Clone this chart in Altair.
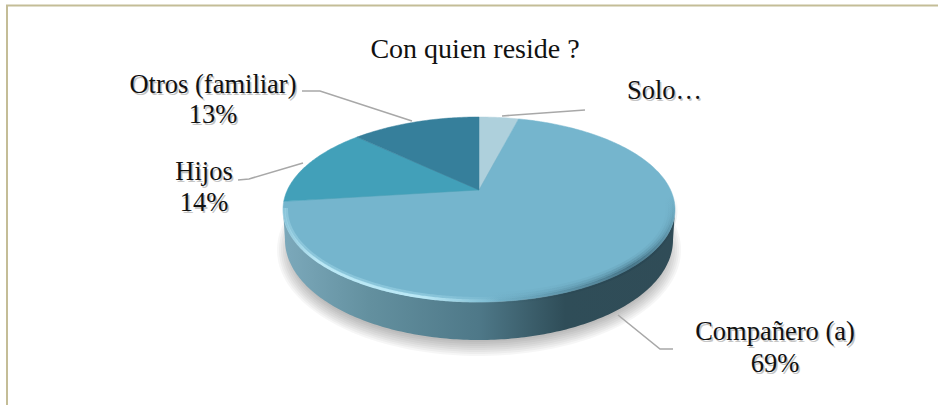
import altair as alt
import numpy as np
import pandas as pd

# Share of respondents per household type, clockwise from twelve o'clock
categories = ["Solo", "Compañero (a)", "Hijos", "Otros (familiar)"]
shares = [4, 69, 14, 13]
slice_colors = ["#AED0DC", "#75B5CD", "#42A0B9", "#367F9B"]

title_text = "Con quien reside ?"
label_lines = [
    ("Otros (familiar)", 213, 93, "center"),
    ("13%", 213, 123, "center"),
    ("Hijos", 204, 180, "center"),
    ("14%", 204, 211, "center"),
    ("Compañero (a)", 775, 340, "center"),
    ("69%", 775, 372, "center"),
    ("Solo…", 627, 99, "left"),
]
leaders = [
    [(302, 91), (320, 91), (412, 121)],
    [(238, 180), (249, 179), (303, 163)],
    [(502, 116), (585, 110)],
    [(618, 315), (660, 349), (673, 349)],
]

W, H = 938, 405
CX, CY, RX, RY = 479.0, 209.5, 196.0, 92.5   # outline of the top face
TILT = 0.211                                 # perspective shift of the pie centre
DEPTH_CY, DEPTH_RX, DEPTH_RY = 240.0, 194.0, 100.0

x_scale = alt.Scale(domain=[0, W], nice=False, zero=False)
y_scale = alt.Scale(domain=[H, 0], nice=False, zero=False)


def shape(points, **mark):
    df = pd.DataFrame(points, columns=["x", "y"])
    df["i"] = range(len(df))
    return alt.Chart(df).mark_line(**mark).encode(
        x=alt.X("x:Q", scale=x_scale, axis=None),
        y=alt.Y("y:Q", scale=y_scale, axis=None),
        order=alt.Order("i:Q"),
    )


def disc_to_screen(share):
    """Cumulative percentage around the pie -> point on the tilted top face."""
    theta = np.radians(np.asarray(share, dtype=float) * 3.6)
    u, v = np.sin(theta), np.cos(theta)
    d = 1 + TILT * v
    return CX + RX * u * np.sqrt(1 - TILT**2) / d, CY - RY * (v + TILT) / (TILT * v + 1)


def ellipse(cx, cy, rx, ry, a0=0, a1=360, n=180):
    phi = np.radians(np.linspace(a0, a1, n))
    return list(zip(cx + rx * np.cos(phi), cy + ry * np.sin(phi)))


def linear(stops, x1=0, x2=1, y1=0, y2=0):
    return alt.Gradient(
        gradient="linear", x1=x1, x2=x2, y1=y1, y2=y2,
        stops=[alt.GradientStop(color=c, offset=o) for o, c in stops],
    )


layers = []

# Frame along the top and left edges
layers.append(shape([(7, H), (7, 5.5), (W, 5.5)], stroke="#C4BD97", strokeWidth=2))

# Soft ground shadow, built from stacked translucent ellipses
for grow in range(-8, 11, 2):
    layers.append(shape(ellipse(479, 250, 192 + grow, 96 + grow), stroke=None,
                        fill="#000000", fillOpacity=0.035))

# Rim of the pie: lower half of the base joined to the lower half of the top face
rim = ellipse(CX, DEPTH_CY, DEPTH_RX, DEPTH_RY, 180, 0) + ellipse(CX, CY, RX, RY, 0, 180)
rim.append(rim[0])
layers.append(shape(rim, strokeWidth=0, stroke=None, fill=linear([
    (0.0, "#7CA9BB"), (0.22, "#63909F"), (0.5, "#4E7888"),
    (0.72, "#2F4D58"), (1.0, "#304C57"),
])))

# Top face slices, each outlined from its cumulative share
edges = np.cumsum([0] + shares)
for start, end, color in zip(edges[:-1], edges[1:], slice_colors):
    xs, ys = disc_to_screen(np.linspace(start, end, max(int(end - start) * 4, 8)))
    cx0, cy0 = CX, CY - RY * TILT
    outline = [(cx0, cy0)] + list(zip(xs, ys)) + [(cx0, cy0)]
    layers.append(shape(outline, fill=color, stroke=color, strokeWidth=0.5))

# Bevel: dark falloff on the lower right, bright edge on the lower left
for inset, width, alpha in [(0.0, 5, 0.34), (2.0, 5, 0.24), (4.5, 5, 0.14), (7.0, 5, 0.07)]:
    layers.append(shape(
        ellipse(CX, CY, RX - inset, RY - inset, -8, 88), strokeWidth=width,
        stroke=linear([(0.0, "rgba(30,60,75,0)"), (0.45, f"rgba(30,60,75,{alpha})"),
                       (1.0, "rgba(30,60,75,0.0)")], x1=1, x2=0, y1=0, y2=1),
    ))
for inset, width, color in [
    (1.0, 3.0, "rgba(190,235,248,0.95)"),
    (3.5, 3.0, "rgba(170,222,238,0.4)"),
]:
    layers.append(shape(
        ellipse(CX, CY, RX - inset, RY - inset, 84, 181), strokeWidth=width,
        stroke=linear([(0.0, "rgba(190,235,248,0)"), (0.35, color),
                       (0.85, color), (1.0, "rgba(190,235,248,0.3)")], x1=1, x2=0),
    ))

# Leader lines
for path in leaders:
    layers.append(shape(path, stroke="#A8A8A8", strokeWidth=1.6))

# Category labels with a faint drop shadow, then the title
labels = pd.DataFrame(label_lines, columns=["text", "x", "y", "align"])
for align, group in labels.groupby("align"):
    for dx, dy, color, alpha in [(1.5, 1.5, "#808080", 0.45), (0, 0, "#111111", 1.0)]:
        layers.append(
            alt.Chart(group).mark_text(
                font="Liberation Serif", fontSize=26.5, align=align, baseline="alphabetic",
                color=color, opacity=alpha, dx=dx, dy=dy,
            ).encode(
                x=alt.X("x:Q", scale=x_scale, axis=None),
                y=alt.Y("y:Q", scale=y_scale, axis=None),
                text="text:N",
            )
        )
layers.append(
    alt.Chart(pd.DataFrame({"text": [title_text], "x": [475], "y": [58]})).mark_text(
        font="Liberation Serif", fontSize=28, align="center", baseline="alphabetic",
        color="#111111",
    ).encode(
        x=alt.X("x:Q", scale=x_scale, axis=None),
        y=alt.Y("y:Q", scale=y_scale, axis=None),
        text="text:N",
    )
)

chart = alt.layer(*layers).properties(
    width=W, height=H, padding=0, background="white",
    autosize=alt.AutoSizeParams(type="none"),
).configure_view(stroke=None)

chart.save("out.html", embed_options={"renderer": "svg", "actions": False})
